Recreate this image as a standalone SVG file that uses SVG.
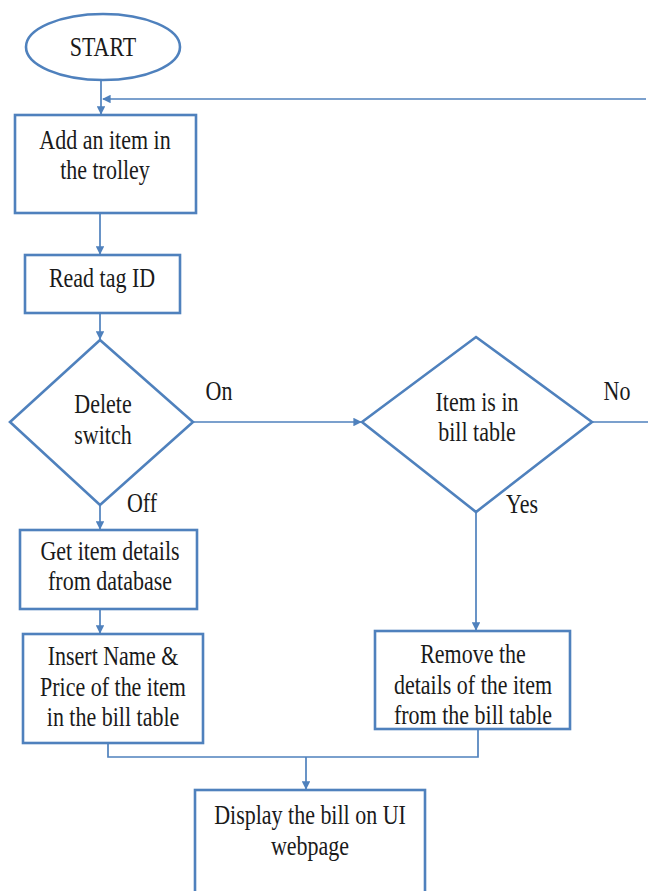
<svg xmlns="http://www.w3.org/2000/svg" width="648" height="891" viewBox="0 0 648 891">
<defs>
<style>
.s{fill:#fff;stroke:#4f81bd;stroke-width:2.6}
.c{fill:none;stroke:#4f81bd;stroke-width:1.7}
.t{font-family:'Liberation Serif','DejaVu Serif',serif;font-size:22px;fill:#1a1a1a;text-anchor:middle}
</style>
<marker id="a" viewBox="0 0 10 10" refX="9" refY="5" markerWidth="5" markerHeight="5" orient="auto"><path d="M0,0L10,5L0,10z" fill="#4f81bd"/></marker>
</defs>
<rect width="648" height="891" fill="#fff"/>
<g id="connectors">
<path class="c" d="M101,81V114" marker-end="url(#a)"/>
<path class="c" d="M646,99H103" marker-end="url(#a)"/>
<path class="c" d="M100,213V254" marker-end="url(#a)"/>
<path class="c" d="M100,313V339" marker-end="url(#a)"/>
<path class="c" d="M193,422H361" marker-end="url(#a)"/>
<path class="c" d="M592,422H648"/>
<path class="c" d="M100,505V529" marker-end="url(#a)"/>
<path class="c" d="M100,609V633" marker-end="url(#a)"/>
<path class="c" d="M476,512V630" marker-end="url(#a)"/>
<path class="c" d="M108,743V757H478V729"/>
<path class="c" d="M306,757V789" marker-end="url(#a)"/>
</g>
<g id="start"><ellipse class="s" cx="103" cy="47" rx="77" ry="33"/><text class="t" transform="translate(103,56) scale(1,1.2)">START</text></g>
<g id="add"><rect class="s" x="15" y="115" width="181" height="98"/><text class="t" transform="translate(105,149) scale(1,1.2)">Add an item in</text><text class="t" transform="translate(105,179) scale(1,1.2)">the trolley</text></g>
<g id="read"><rect class="s" x="25" y="255" width="155" height="58"/><text class="t" transform="translate(102,287) scale(1,1.2)">Read tag ID</text></g>
<g id="delete"><polygon class="s" points="100,340 193,422 100,505 10,422"/><text class="t" transform="translate(103,413) scale(1,1.2)">Delete</text><text class="t" transform="translate(103,444) scale(1,1.2)">switch</text></g>
<g id="item"><polygon class="s" points="476,337 592,422 476,512 362,422"/><text class="t" transform="translate(477,411) scale(1,1.2)">Item is in</text><text class="t" transform="translate(477,441) scale(1,1.2)">bill table</text></g>
<g id="labels"><text class="t" transform="translate(219,400) scale(1,1.2)">On</text><text class="t" transform="translate(617,400) scale(1,1.2)">No</text><text class="t" transform="translate(142,512) scale(1,1.2)">Off</text><text class="t" transform="translate(522,513) scale(1,1.2)">Yes</text></g>
<g id="get"><rect class="s" x="20" y="530" width="177" height="79"/><text class="t" transform="translate(110,560) scale(1,1.2)">Get item details</text><text class="t" transform="translate(110,590) scale(1,1.2)">from database</text></g>
<g id="insert"><rect class="s" x="23" y="634" width="180" height="109"/><text class="t" transform="translate(113,665) scale(1,1.2)">Insert Name &amp;</text><text class="t" transform="translate(113,696) scale(1,1.2)">Price of the item</text><text class="t" transform="translate(113,726) scale(1,1.2)">in the bill table</text></g>
<g id="remove"><rect class="s" x="375" y="631" width="195" height="98"/><text class="t" transform="translate(473,663) scale(1,1.2)">Remove the</text><text class="t" transform="translate(473,694) scale(1,1.2)">details of the item</text><text class="t" transform="translate(473,724) scale(1,1.2)">from the bill table</text></g>
<g id="display"><rect class="s" x="195" y="790" width="230" height="104"/><text class="t" transform="translate(310,824) scale(1,1.2)">Display the bill on UI</text><text class="t" transform="translate(310,855) scale(1,1.2)">webpage</text></g>
</svg>
